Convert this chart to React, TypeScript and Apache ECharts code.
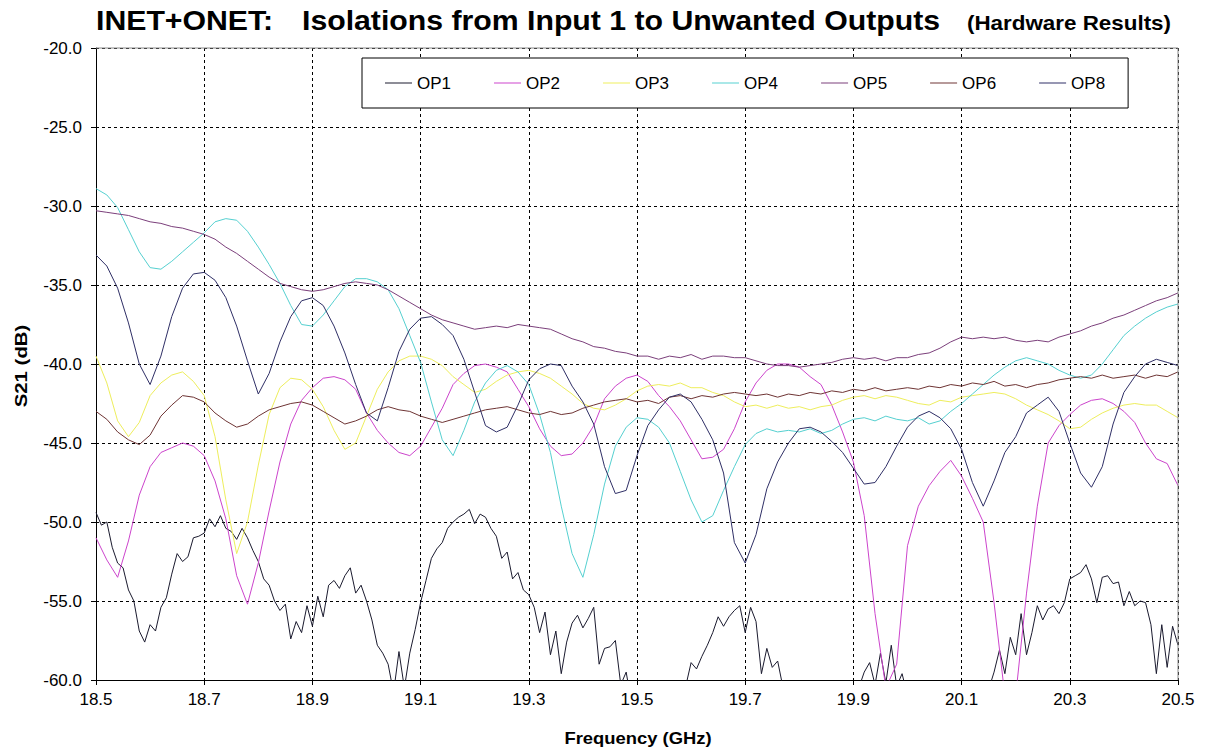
import React, { useEffect, useRef } from "react";
import * as echarts from "echarts";

// ---------- sample grids (GHz) ----------
const sampleGrid = (start: number, count: number, step: number): number[] => {
  const out: number[] = [];
  for (let i = 0; i < count; i++) out.push(Math.round((start + i * step) * 100) / 100);
  return out;
};
const FREQ_FINE = sampleGrid(18.5, 201, 0.01); // OP1 trace
const FREQ = sampleGrid(18.5, 101, 0.02); // other traces

// ---------- axis ticks ----------
const X_TICKS = [18.5, 18.7, 18.9, 19.1, 19.3, 19.5, 19.7, 19.9, 20.1, 20.3, 20.5];
const Y_MIN = -60;
const Y_MAX = -20;
const Y_STEP = 5;

// ---------- series (dB) ----------
const OP1 = [
  -49.4, -50.2, -50.0, -51.6, -52.6, -52.9, -54.3, -55.0, -56.9, -57.6,
  -56.5, -56.9, -55.4, -54.8, -53.3, -52.0, -52.5, -52.2, -51.0, -50.9,
  -50.7, -49.8, -50.3, -49.6, -50.4, -50.6, -51.1, -50.4, -51.0, -51.8,
  -52.5, -53.6, -54.0, -55.0, -55.6, -55.2, -57.4, -56.3, -57.0, -55.3,
  -56.6, -54.7, -56.0, -54.0, -53.7, -54.2, -53.4, -52.9, -54.5, -54.0,
  -55.0, -56.2, -57.8, -58.3, -59.0, -60.8, -58.2, -60.5, -58.3, -56.8,
  -55.1, -53.7, -52.3, -51.7, -51.3, -50.4, -50.0, -49.7, -49.5, -49.2,
  -50.1, -49.5, -49.7, -50.4, -50.9, -52.3, -51.9, -53.6, -53.2, -54.3,
  -54.6, -55.4, -57.0, -55.7, -58.4, -56.9, -59.6, -57.6, -56.4, -55.9,
  -56.7, -56.1, -55.4, -59.0, -58.0, -57.9, -57.5, -60.3, -59.5, -61.5,
  -62.5, -63.0, -63.5, -63.0, -63.5, -62.8, -62.0, -61.5, -61.0, -60.4,
  -58.9, -59.3, -58.5, -57.8, -57.0, -56.0, -56.6, -56.0, -55.6, -55.3,
  -57.0, -55.4, -56.3, -59.6, -58.0, -59.2, -58.8, -60.5, -61.5, -62.0,
  -62.5, -63.0, -63.5, -63.5, -63.0, -63.5, -62.8, -62.5, -62.0, -61.5,
  -61.0, -60.5, -59.5, -58.9, -60.3, -58.3, -60.2, -57.8, -60.4, -59.6,
  -61.0, -62.0, -62.5, -63.0, -63.5, -63.5, -63.0, -63.5, -63.0, -62.5,
  -62.0, -62.5, -62.0, -61.5, -61.0, -60.6, -59.5, -58.1, -59.6, -57.3,
  -58.4, -55.8, -58.4, -57.0, -55.3, -56.2, -55.5, -55.3, -55.8, -55.1,
  -53.6, -53.4, -53.2, -52.7, -53.6, -55.1, -53.5, -53.4, -53.9, -53.8,
  -55.3, -54.4, -55.3, -55.0, -55.1, -56.5, -59.6, -56.5, -59.2, -56.6,
  -57.8,
];

const OP2 = [
  -51.0, -52.4, -53.5, -51.2, -48.3, -46.5, -45.6, -45.3, -45.0, -45.2,
  -45.8, -47.4, -49.8, -53.4, -55.2, -52.6, -49.3, -46.2, -43.8, -42.3,
  -41.5, -40.9, -40.8, -41.0, -41.6, -43.1, -44.2, -45.0, -45.6, -45.8,
  -45.2, -44.0, -42.8, -41.3, -40.6, -40.1, -40.0, -40.2, -40.5, -41.6,
  -42.7, -44.1, -45.2, -45.8, -45.7, -45.0, -43.9, -42.2, -41.4, -40.9,
  -40.7, -41.1, -42.0, -42.7, -43.6, -44.8, -46.0, -45.9, -45.4, -44.1,
  -42.4, -41.2, -40.4, -40.0, -40.0, -40.2, -40.8, -41.3, -42.6, -44.3,
  -46.2, -49.6, -55.8, -60.5, -59.0, -51.5, -49.0, -47.7, -46.8, -46.1,
  -47.1, -48.5, -50.0, -55.1, -61.0, -61.0, -54.5, -49.0, -45.0, -43.9,
  -43.2, -42.6, -42.3, -42.2, -42.5, -43.0, -43.7, -45.0, -46.0, -46.3,
  -47.7,
];

const OP3 = [
  -39.5, -41.2, -43.6, -44.6, -43.7, -42.0, -41.2, -40.7, -40.5, -41.1,
  -42.0, -44.6, -48.6, -52.0, -50.0, -46.4, -43.2, -41.5, -40.9, -41.0,
  -41.6, -42.7, -44.2, -45.4, -45.0, -43.3, -41.6, -40.5, -39.8, -39.5,
  -39.5, -39.7, -40.1, -40.8, -41.3, -41.8, -41.6, -41.1, -40.7, -40.5,
  -40.4, -40.6, -40.9, -41.4, -41.9, -42.5, -42.8, -42.9, -42.6, -42.2,
  -41.7, -41.4, -41.3, -41.4, -41.2, -41.5, -41.5, -41.8, -42.0, -42.4,
  -42.7, -42.6, -42.8, -42.6, -42.8, -42.7, -42.9, -42.7, -42.6, -42.3,
  -42.1, -42.0, -42.2, -42.0, -42.1, -42.3, -42.5, -42.6, -42.3, -42.4,
  -42.1, -42.0, -41.9, -41.8, -41.9, -42.2, -42.6, -42.9, -43.2, -43.6,
  -44.1, -44.0, -43.5, -43.1, -42.8, -42.6, -42.5, -42.6, -42.6, -43.0,
  -43.4,
];

const OP4 = [
  -28.9, -29.3, -30.1, -31.5, -32.9, -33.9, -34.0, -33.5, -32.9, -32.3,
  -31.7, -31.0, -30.8, -30.9, -31.6, -32.6, -33.7, -34.9, -36.3, -37.5,
  -37.6, -36.9, -36.0, -35.1, -34.6, -34.6, -34.8, -35.3, -36.5, -38.2,
  -39.9, -42.4, -44.8, -45.8, -44.2, -42.4, -41.2, -40.4, -40.1, -40.5,
  -41.3, -43.2, -45.6, -49.0, -52.0, -53.5, -50.8, -47.6, -45.2, -44.0,
  -43.4, -43.5, -44.0, -45.0, -46.8, -48.6, -50.0, -49.6, -48.0, -46.5,
  -45.1, -44.4, -44.1, -44.3, -44.2, -44.3, -44.1, -44.4, -44.2, -43.8,
  -43.5, -43.4, -43.6, -43.3, -43.5, -43.6, -43.4, -43.8, -43.6, -43.0,
  -42.5, -41.9, -41.3, -40.7, -40.2, -39.8, -39.6, -39.8, -40.0, -40.4,
  -40.7, -40.9, -40.7, -40.0, -39.1, -38.2, -37.6, -37.1, -36.7, -36.4,
  -36.2,
];

const OP5 = [
  -30.3, -30.4, -30.5, -30.6, -30.8, -31.0, -31.1, -31.3, -31.4, -31.6,
  -31.8, -32.1, -32.6, -33.0, -33.5, -34.0, -34.5, -34.9, -35.1, -35.3,
  -35.4, -35.3, -35.1, -34.9, -34.8, -34.9, -35.0, -35.3, -35.7, -36.1,
  -36.5, -36.9, -37.2, -37.4, -37.6, -37.8, -37.7, -37.6, -37.7, -37.5,
  -37.6, -37.7, -37.8, -38.1, -38.4, -38.6, -38.9, -39.0, -39.2, -39.3,
  -39.5, -39.5, -39.7, -39.5, -39.6, -39.4, -39.7, -39.5, -39.5, -39.6,
  -39.6, -39.8, -40.0, -40.1, -40.1, -40.2, -40.1, -40.0, -39.9, -39.7,
  -39.6, -39.7, -39.6, -39.8, -39.6, -39.6, -39.4, -39.3, -39.0, -38.6,
  -38.3, -38.4, -38.3, -38.4, -38.3, -38.5, -38.6, -38.5, -38.6, -38.3,
  -38.1, -37.9, -37.6, -37.4, -37.1, -36.9, -36.6, -36.3, -36.0, -35.8,
  -35.5,
];

const OP6 = [
  -43.0, -43.5, -44.3, -44.8, -45.1, -44.5, -43.3, -42.6, -42.0, -42.1,
  -42.4, -43.1, -43.6, -44.0, -43.8, -43.3, -42.9, -42.7, -42.5, -42.4,
  -42.6, -43.0, -43.4, -43.8, -43.6, -43.3, -42.9, -42.7, -42.9, -43.0,
  -43.3, -43.5, -43.7, -43.5, -43.3, -43.1, -42.9, -42.8, -42.7, -42.9,
  -43.1, -43.2, -43.0, -43.2, -43.1, -42.8, -42.6, -42.4, -42.3, -42.2,
  -42.4, -42.3, -42.5, -42.1, -42.0, -42.2, -42.0, -42.1, -41.9, -41.8,
  -41.9, -42.0, -41.9, -42.1, -41.9, -42.0, -41.8, -41.9, -41.7, -41.8,
  -41.6, -41.7, -41.5, -41.7, -41.6, -41.5, -41.6, -41.4, -41.5, -41.3,
  -41.4, -41.2, -41.3, -41.1, -41.4, -41.3, -41.5, -41.3, -41.2, -41.0,
  -40.9, -40.8, -40.9, -40.7, -40.9, -40.8, -40.7, -40.9, -40.7, -40.8,
  -40.5,
];

const OP8 = [
  -33.1, -33.8, -35.2, -37.4, -40.0, -41.3, -39.5, -37.0, -35.2, -34.3,
  -34.2, -34.7, -35.8, -37.6, -39.8, -41.9, -40.6, -38.6, -37.0, -36.0,
  -35.8, -36.3, -37.6, -39.3, -41.3, -43.1, -43.6, -41.5, -39.2, -37.8,
  -37.1, -37.0, -37.5, -38.2, -39.7, -41.8, -43.9, -44.3, -44.0, -42.6,
  -41.0, -40.3, -40.0, -40.1, -41.4, -42.4, -43.8, -46.5, -48.2, -48.0,
  -45.8, -43.9, -42.9, -42.1, -41.9, -42.4, -43.5, -44.8, -46.9, -51.3,
  -52.6, -50.8, -47.9, -46.2, -45.0, -44.1, -44.0, -44.3, -44.9, -45.6,
  -46.6, -47.6, -47.5, -46.5, -45.2, -44.0, -43.3, -43.0, -43.4, -44.1,
  -45.4, -47.5, -49.0, -47.4, -45.6, -44.6, -43.1, -42.6, -42.1, -43.0,
  -45.0, -46.9, -47.8, -46.5, -43.8, -41.8, -40.8, -40.0, -39.7, -39.9,
  -40.1,
];

const SERIES_NAMES = ["OP1", "OP2", "OP3", "OP4", "OP5", "OP6", "OP8"];
const SERIES_VALUES = [OP1, OP2, OP3, OP4, OP5, OP6, OP8];
const SERIES_FREQ = [FREQ_FINE, FREQ, FREQ, FREQ, FREQ, FREQ, FREQ];
const SERIES_COLORS = ["#1a1a2e", "#cc44cc", "#eeee5c", "#55d0d0", "#7b3f7b", "#6e3434", "#2f2f66"];

const FONT = '"Liberation Sans", Arial, Helvetica, sans-serif';

// layout (pixels)
const GRID_LEFT = 96;
const GRID_RIGHT = 28;
const GRID_TOP = 48;
const GRID_BOTTOM = 71;
const W = 1206;
const H = 751;

export default function App() {
  const ref = useRef<HTMLDivElement>(null);

  useEffect(() => {
    document.body.style.margin = "0";
    if (!ref.current) return;
    const chart = echarts.init(ref.current, null, { renderer: "svg" });

    const series = SERIES_NAMES.map((name, k) => ({
      name,
      type: "line",
      data: SERIES_FREQ[k].map((f, i) => [f, SERIES_VALUES[k][i]]),
      showSymbol: false,
      symbol: "none",
      clip: true,
      lineStyle: { color: SERIES_COLORS[k], width: 1 },
      itemStyle: { color: SERIES_COLORS[k] },
      emphasis: { disabled: true },
    }));

    const plotRight = W - GRID_RIGHT;
    const plotBottom = H - GRID_BOTTOM;

    chart.setOption({
      animation: false,
      backgroundColor: "#ffffff",
      grid: { left: GRID_LEFT, right: GRID_RIGHT, top: GRID_TOP, bottom: GRID_BOTTOM, containLabel: false },
      legend: {
        data: SERIES_NAMES,
        left: 362,
        top: 58,
        orient: "horizontal",
        padding: [16, 23],
        itemGap: 43,
        itemWidth: 27,
        itemHeight: 1,
        icon: "rect",
        borderColor: "#000",
        borderWidth: 1,
        backgroundColor: "#fff",
        textStyle: { fontSize: 17, fontFamily: FONT, color: "#000", lineHeight: 18 },
        selectedMode: false,
      },
      xAxis: {
        type: "value",
        min: X_TICKS[0],
        max: X_TICKS[X_TICKS.length - 1],
        axisLine: { show: true, onZero: false, lineStyle: { color: "#000", width: 1 } },
        axisTick: { show: true, length: 5, lineStyle: { color: "#000" }, customValues: X_TICKS },
        axisLabel: {
          customValues: X_TICKS,
          formatter: (v: number) => v.toFixed(1),
          fontSize: 17,
          fontFamily: FONT,
          color: "#000",
          margin: 11,
        },
        splitLine: { show: true, lineStyle: { color: "#000", width: 1, type: [3, 3] } },
      },
      yAxis: {
        type: "value",
        min: Y_MIN,
        max: Y_MAX,
        interval: Y_STEP,
        axisLine: { show: true, onZero: false, lineStyle: { color: "#000", width: 1 } },
        axisTick: { show: true, length: 5, lineStyle: { color: "#000" } },
        axisLabel: {
          formatter: (v: number) => v.toFixed(1),
          fontSize: 17,
          fontFamily: FONT,
          color: "#000",
          margin: 14,
        },
        splitLine: { show: true, lineStyle: { color: "#000", width: 1, type: [3, 3] } },
      },
      graphic: [
        {
          type: "line",
          z: 100,
          shape: { x1: GRID_LEFT, y1: GRID_TOP, x2: plotRight, y2: GRID_TOP },
          style: { stroke: "#8a8a8a", lineWidth: 1 },
        },
        {
          type: "line",
          z: 100,
          shape: { x1: plotRight, y1: GRID_TOP, x2: plotRight, y2: plotBottom },
          style: { stroke: "#8a8a8a", lineWidth: 1 },
        },
        {
          type: "text",
          x: 96,
          y: 20,
          scaleX: 1.08,
          style: { text: "INET+ONET:", fontSize: 28, fontWeight: "bold", fontFamily: FONT, fill: "#000", verticalAlign: "middle" },
        },
        {
          type: "text",
          x: 302,
          y: 20,
          scaleX: 1.08,
          style: {
            text: "Isolations from Input 1 to Unwanted Outputs",
            fontSize: 28,
            fontWeight: "bold",
            fontFamily: FONT,
            fill: "#000",
            verticalAlign: "middle",
          },
        },
        {
          type: "text",
          x: 967,
          y: 23,
          scaleX: 1.12,
          style: { text: "(Hardware Results)", fontSize: 20, fontWeight: "bold", fontFamily: FONT, fill: "#000", verticalAlign: "middle" },
        },
        {
          type: "text",
          x: 21,
          y: 366,
          rotation: Math.PI / 2,
          scaleX: 1.2,
          style: { text: "S21 (dB)", fontSize: 17, fontWeight: "bold", fontFamily: FONT, fill: "#000", align: "center", verticalAlign: "middle" },
        },
        {
          type: "text",
          x: 638,
          y: 738,
          scaleX: 1.15,
          style: { text: "Frequency (GHz)", fontSize: 16, fontWeight: "bold", fontFamily: FONT, fill: "#000", align: "center", verticalAlign: "middle" },
        },
      ],
      series,
    });

    return () => chart.dispose();
  }, []);

  return <div ref={ref} style={{ position: "absolute", left: 0, top: 0, width: W, height: H }} />;
}
